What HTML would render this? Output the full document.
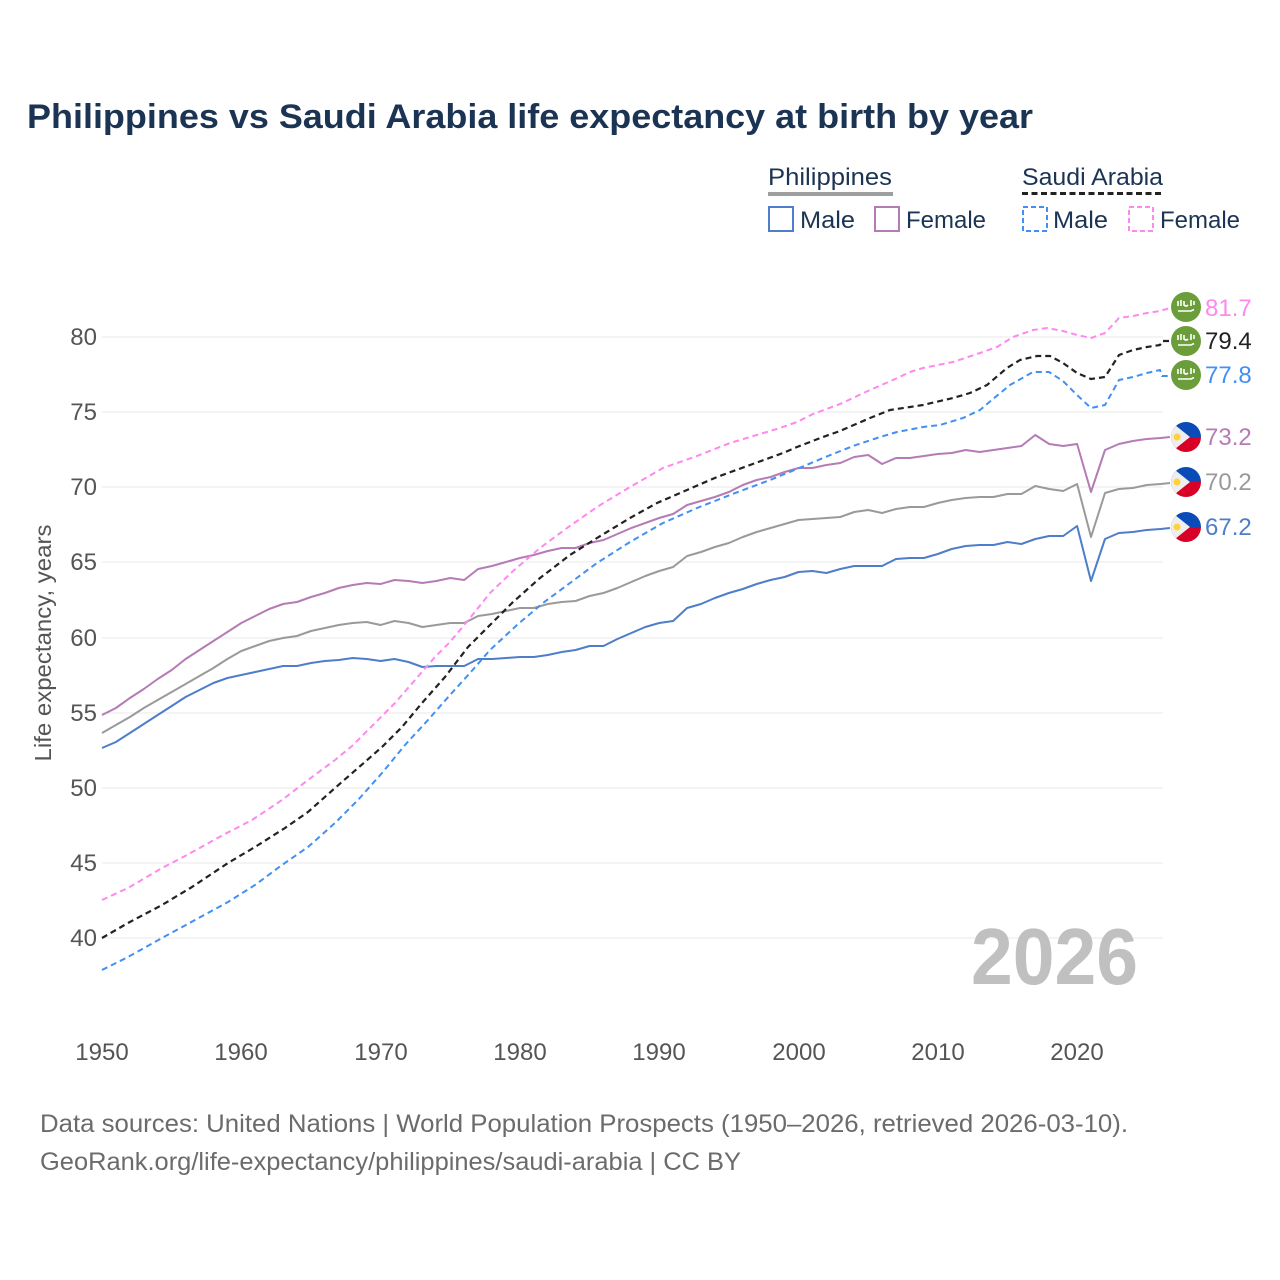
<!DOCTYPE html>
<html><head><meta charset="utf-8"><style>
html,body{margin:0;padding:0;background:#fff;}
svg{display:block;font-family:"Liberation Sans",sans-serif;}
</style></head><body>
<svg width="1280" height="1280" viewBox="0 0 1280 1280" xmlns="http://www.w3.org/2000/svg">
<rect width="1280" height="1280" fill="#fff"/>
<text x="27" y="128" font-size="34" font-weight="bold" fill="#1c3454" textLength="1006" lengthAdjust="spacingAndGlyphs">Philippines vs Saudi Arabia life expectancy at birth by year</text>

<!-- legend -->
<text x="768" y="185" font-size="24" fill="#1c3454" textLength="124" lengthAdjust="spacingAndGlyphs">Philippines</text>
<line x1="768" y1="194" x2="893" y2="194" stroke="#9e9e9e" stroke-width="4"/>
<text x="1022" y="185" font-size="24" fill="#1c3454" textLength="141" lengthAdjust="spacingAndGlyphs">Saudi Arabia</text>
<line x1="1022" y1="193.5" x2="1164" y2="193.5" stroke="#222" stroke-width="3" stroke-dasharray="6,3.5"/>
<rect x="769" y="207" width="24" height="24" fill="none" stroke="#4e7dc9" stroke-width="2"/>
<text x="800" y="228" font-size="24" fill="#1c3454" textLength="55" lengthAdjust="spacingAndGlyphs">Male</text>
<rect x="875" y="207" width="24" height="24" fill="none" stroke="#b57bb5" stroke-width="2"/>
<text x="906" y="228" font-size="24" fill="#1c3454" textLength="80" lengthAdjust="spacingAndGlyphs">Female</text>
<rect x="1023" y="207" width="24" height="24" fill="none" stroke="#4090f5" stroke-width="2" stroke-dasharray="5,3"/>
<text x="1053" y="228" font-size="24" fill="#1c3454" textLength="55" lengthAdjust="spacingAndGlyphs">Male</text>
<rect x="1129" y="207" width="24" height="24" fill="none" stroke="#ff88ee" stroke-width="2" stroke-dasharray="5,3"/>
<text x="1160" y="228" font-size="24" fill="#1c3454" textLength="80" lengthAdjust="spacingAndGlyphs">Female</text>

<!-- grid -->
<g stroke="#e8e8e8" stroke-width="1">
<line x1="102" y1="337" x2="1163" y2="337"/>
<line x1="102" y1="412" x2="1163" y2="412"/>
<line x1="102" y1="487" x2="1163" y2="487"/>
<line x1="102" y1="562" x2="1163" y2="562"/>
<line x1="102" y1="638" x2="1163" y2="638"/>
<line x1="102" y1="713" x2="1163" y2="713"/>
<line x1="102" y1="788" x2="1163" y2="788"/>
<line x1="102" y1="863" x2="1163" y2="863"/>
<line x1="102" y1="938" x2="1163" y2="938"/>
</g>
<g font-size="24" fill="#555" text-anchor="end">
<text x="97" y="345">80</text>
<text x="97" y="420">75</text>
<text x="97" y="495">70</text>
<text x="97" y="570">65</text>
<text x="97" y="646">60</text>
<text x="97" y="721">55</text>
<text x="97" y="796">50</text>
<text x="97" y="871">45</text>
<text x="97" y="946">40</text>
</g>
<g font-size="24" fill="#555" text-anchor="middle">
<text x="102" y="1060">1950</text>
<text x="241" y="1060">1960</text>
<text x="381" y="1060">1970</text>
<text x="520" y="1060">1980</text>
<text x="659" y="1060">1990</text>
<text x="799" y="1060">2000</text>
<text x="938" y="1060">2010</text>
<text x="1077" y="1060">2020</text>
</g>
<text transform="translate(51,643) rotate(-90)" font-size="23" fill="#555" text-anchor="middle" textLength="237" lengthAdjust="spacingAndGlyphs">Life expectancy, years</text>

<text x="971" y="984" font-size="80" font-weight="bold" fill="#c0c0c0" textLength="167" lengthAdjust="spacingAndGlyphs">2026</text>

<!-- series -->
<g fill="none" stroke-linejoin="round" stroke-width="2">
<polyline stroke="#4e7dc9" points="102,748 115.9,742 129.9,733 143.8,724 157.7,715 171.7,706 185.6,697 199.5,690 213.4,683 227.4,678 241.3,675 255.2,672 269.2,669 283.1,666 297,666 311,663 324.9,661 338.8,660 352.7,658 366.7,659 380.6,661 394.5,659 408.5,662 422.4,667 436.3,666 450.3,666 464.2,666 478.1,659 492,659 506,658 519.9,657 533.8,657 547.8,655 561.7,652 575.6,650 589.6,646 603.5,646 617.4,639 631.3,633 645.3,627 659.2,623 673.1,621 687.1,608 701,604 714.9,598 728.9,593 742.8,589 756.7,584 770.6,580 784.6,577 798.5,572 812.4,571 826.4,573 840.3,569 854.2,566 868.2,566 882.1,566 896,559 909.9,558 923.9,558 937.8,554 951.7,549 965.7,546 979.6,545 993.5,545 1007.5,542 1021.4,544 1035.3,539 1049.2,536 1063.2,536 1077.1,526 1091,581 1105,539 1118.9,533 1132.8,532 1146.8,530 1160.7,529 1170,528"/>
<polyline stroke="#9a9a9a" points="102,733 115.9,725 129.9,717 143.8,708 157.7,700 171.7,692 185.6,684 199.5,676 213.4,668 227.4,659 241.3,651 255.2,646 269.2,641 283.1,638 297,636 311,631 324.9,628 338.8,625 352.7,623 366.7,622 380.6,625 394.5,621 408.5,623 422.4,627 436.3,625 450.3,623 464.2,623 478.1,616 492,614 506,611 519.9,608 533.8,608 547.8,604 561.7,602 575.6,601 589.6,596 603.5,593 617.4,588 631.3,582 645.3,576 659.2,571 673.1,567 687.1,556 701,552 714.9,547 728.9,543 742.8,537 756.7,532 770.6,528 784.6,524 798.5,520 812.4,519 826.4,518 840.3,517 854.2,512 868.2,510 882.1,513 896,509 909.9,507 923.9,507 937.8,503 951.7,500 965.7,498 979.6,497 993.5,497 1007.5,494 1021.4,494 1035.3,486 1049.2,489 1063.2,491 1077.1,484 1091,537 1105,493 1118.9,489 1132.8,488 1146.8,485 1160.7,484 1170,483"/>
<polyline stroke="#b57bb5" points="102,715 115.9,708 129.9,698 143.8,689 157.7,679 171.7,670 185.6,659 199.5,650 213.4,641 227.4,632 241.3,623 255.2,616 269.2,609 283.1,604 297,602 311,597 324.9,593 338.8,588 352.7,585 366.7,583 380.6,584 394.5,580 408.5,581 422.4,583 436.3,581 450.3,578 464.2,580 478.1,569 492,566 506,562 519.9,558 533.8,555 547.8,551 561.7,548 575.6,548 589.6,543 603.5,540 617.4,534 631.3,528 645.3,523 659.2,518 673.1,514 687.1,505 701,501 714.9,497 728.9,492 742.8,485 756.7,480 770.6,477 784.6,472 798.5,468 812.4,468 826.4,465 840.3,463 854.2,457 868.2,455 882.1,464 896,458 909.9,458 923.9,456 937.8,454 951.7,453 965.7,450 979.6,452 993.5,450 1007.5,448 1021.4,446 1035.3,435 1049.2,444 1063.2,446 1077.1,444 1091,492 1105,450 1118.9,444 1132.8,441 1146.8,439 1160.7,438 1170,437"/>
<polyline stroke="#ff88ee" stroke-dasharray="6,4" points="102,900 128,888 162,868 187,855 223,835 252,820 282,800 308,780 335,760 352,746 375,723 395,703 415,680 435,657 450,642 470,618 490,593 512,572 540,548 567,528 597,507 630,487 663,468 697,456 730,443 780,428 797,422 813,414 840,404 870,390 893,380 910,372 923,368 953,362 980,353 997,347 1013,337 1033,330 1047,328 1063,331 1077,335 1091,338 1105,333 1119,318 1133,316 1147,313 1160,311 1170,308"/>
<polyline stroke="#222" stroke-width="2.2" stroke-dasharray="6,4" points="102,938 128,923 162,905 192,887 228,863 255,847 285,828 308,812 335,788 358,768 382,747 402,727 422,703 445,677 468,647 490,625 512,603 540,578 570,555 597,538 630,518 657,503 687,490 717,477 750,465 783,453 797,447 823,437 840,431 870,418 890,410 910,407 923,405 953,398 970,393 987,385 1007,368 1020,360 1037,356 1050,356 1063,363 1077,373 1091,379 1105,377 1119,355 1133,350 1147,347 1160,345 1162,341 1170,341"/>
<polyline stroke="#4090f5" stroke-dasharray="6,4" points="102,970 128,957 162,938 195,920 228,902 255,885 282,865 308,847 335,823 358,800 382,773 405,745 428,720 450,695 470,673 490,650 517,625 543,603 570,583 597,563 630,542 663,523 697,508 730,495 770,480 797,469 823,458 853,446 880,437 897,432 923,427 940,425 963,418 980,410 993,399 1010,385 1033,372 1049,372 1063,381 1077,395 1091,408 1105,405 1119,380 1133,377 1147,373 1160,370 1162,376 1170,376"/>
</g>

<!-- flags -->
<defs>
<clipPath id="ph1"><circle cx="1186" cy="437" r="15"/></clipPath>
<clipPath id="ph2"><circle cx="1186" cy="482" r="15"/></clipPath>
<clipPath id="ph3"><circle cx="1186" cy="527" r="15"/></clipPath>
</defs>
<g>
<circle cx="1186" cy="307" r="15" fill="#6b9e3a"/>
<path d="M1178,301 v5 M1181,300 v6 M1184,301 v4 q2,2 4,0 M1191,300 v6 M1194,301 v4" stroke="#fff" stroke-width="1.6" fill="none"/>
<path d="M1178,311 h13 l3,-1.5" stroke="#fff" stroke-width="1.6" fill="none"/>
<circle cx="1186" cy="341" r="15" fill="#6b9e3a"/>
<path d="M1178,335 v5 M1181,334 v6 M1184,335 v4 q2,2 4,0 M1191,334 v6 M1194,335 v4" stroke="#fff" stroke-width="1.6" fill="none"/>
<path d="M1178,345 h13 l3,-1.5" stroke="#fff" stroke-width="1.6" fill="none"/>
<circle cx="1186" cy="375" r="15" fill="#6b9e3a"/>
<path d="M1178,369 v5 M1181,368 v6 M1184,369 v4 q2,2 4,0 M1191,368 v6 M1194,369 v4" stroke="#fff" stroke-width="1.6" fill="none"/>
<path d="M1178,379 h13 l3,-1.5" stroke="#fff" stroke-width="1.6" fill="none"/>
</g>
<g clip-path="url(#ph1)">
<rect x="1170" y="421" width="32" height="16" fill="#0a4bb8"/>
<rect x="1170" y="437" width="32" height="16" fill="#d80027"/>
<polygon points="1170,421 1190,437 1170,453" fill="#eeeeee"/>
<circle cx="1177" cy="437" r="3.5" fill="#ffd23a"/>
</g>
<g clip-path="url(#ph2)">
<rect x="1170" y="466" width="32" height="16" fill="#0a4bb8"/>
<rect x="1170" y="482" width="32" height="16" fill="#d80027"/>
<polygon points="1170,466 1190,482 1170,498" fill="#eeeeee"/>
<circle cx="1177" cy="482" r="3.5" fill="#ffd23a"/>
</g>
<g clip-path="url(#ph3)">
<rect x="1170" y="511" width="32" height="16" fill="#0a4bb8"/>
<rect x="1170" y="527" width="32" height="16" fill="#d80027"/>
<polygon points="1170,511 1190,527 1170,543" fill="#eeeeee"/>
<circle cx="1177" cy="527" r="3.5" fill="#ffd23a"/>
</g>

<g font-size="24">
<text x="1205" y="316" fill="#ff88ee">81.7</text>
<text x="1205" y="349" fill="#222">79.4</text>
<text x="1205" y="383" fill="#4090f5">77.8</text>
<text x="1205" y="445" fill="#b57bb5">73.2</text>
<text x="1205" y="490" fill="#9a9a9a">70.2</text>
<text x="1205" y="535" fill="#4e7dc9">67.2</text>
</g>

<text x="40" y="1132" font-size="25" fill="#6b6b6b" textLength="1088" lengthAdjust="spacingAndGlyphs">Data sources: United Nations | World Population Prospects (1950–2026, retrieved 2026-03-10).</text>
<text x="40" y="1170" font-size="25" fill="#6b6b6b" textLength="701" lengthAdjust="spacingAndGlyphs">GeoRank.org/life-expectancy/philippines/saudi-arabia | CC BY</text>
</svg>
</body></html>
